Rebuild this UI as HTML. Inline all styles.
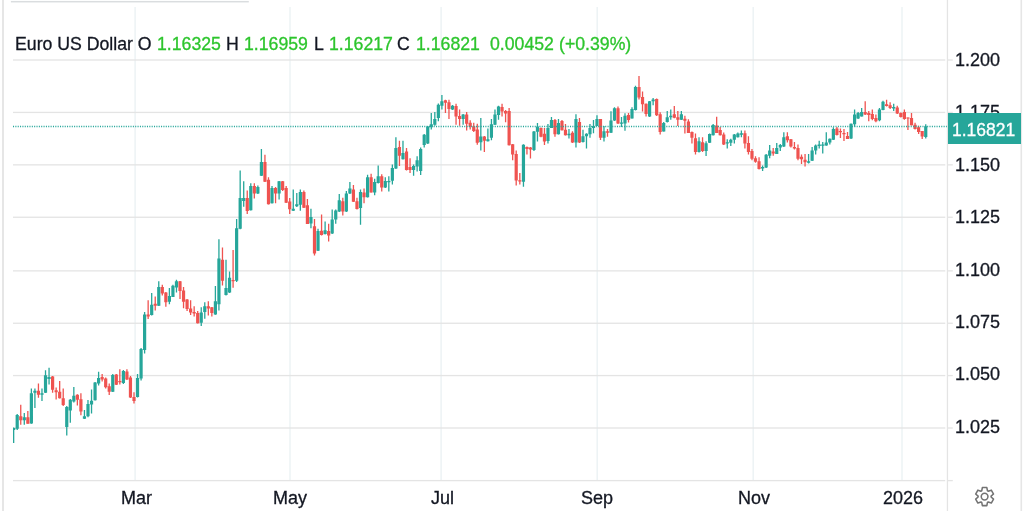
<!DOCTYPE html>
<html><head><meta charset="utf-8">
<style>
html,body{margin:0;padding:0;background:#fff;}
body{width:1023px;height:511px;overflow:hidden;position:relative;font-family:"Liberation Sans", sans-serif;-webkit-font-smoothing:antialiased;}
.lg,.pl,.tl,.lab{will-change:transform;-webkit-text-stroke:0.3px currentColor;}
svg{position:absolute;left:0;top:0;}
.lg{position:absolute;top:33px;font-size:17.7px;line-height:22px;white-space:pre;}
.dk{color:#131722;}
.gr{color:#2dc52d;}
.pl{position:absolute;left:955px;font-size:18px;line-height:22px;color:#131722;white-space:pre;}
.tl{position:absolute;top:487px;font-size:18px;line-height:22px;color:#131722;white-space:pre;}
.box{position:absolute;left:948px;top:113.3px;width:72.8px;height:30.4px;background:#26a69a;}
.lab{position:absolute;left:951.5px;top:119px;font-size:17.5px;line-height:22px;color:#fff;white-space:pre;}
</style></head><body>
<svg width="1023" height="511" viewBox="0 0 1023 511">
<rect x="134.35" y="7" width="1.5" height="473" fill="#edf3f5"/>
<rect x="289.25" y="7" width="1.5" height="473" fill="#edf3f5"/>
<rect x="440.35" y="7" width="1.5" height="473" fill="#edf3f5"/>
<rect x="596.45" y="7" width="1.5" height="473" fill="#edf3f5"/>
<rect x="752.45" y="7" width="1.5" height="473" fill="#edf3f5"/>
<rect x="901.25" y="7" width="1.5" height="473" fill="#edf3f5"/>
<rect x="13" y="59.35" width="932.3" height="1.3" fill="#e4e4e4"/>
<rect x="947.5" y="59.35" width="5.3" height="1.3" fill="#e4e4e4"/>
<rect x="13" y="111.78" width="932.3" height="1.3" fill="#e4e4e4"/>
<rect x="947.5" y="111.78" width="5.3" height="1.3" fill="#e4e4e4"/>
<rect x="13" y="164.21" width="932.3" height="1.3" fill="#e4e4e4"/>
<rect x="947.5" y="164.21" width="5.3" height="1.3" fill="#e4e4e4"/>
<rect x="13" y="216.60" width="932.3" height="1.3" fill="#e4e4e4"/>
<rect x="947.5" y="216.60" width="5.3" height="1.3" fill="#e4e4e4"/>
<rect x="13" y="270.23" width="932.3" height="1.3" fill="#e4e4e4"/>
<rect x="947.5" y="270.23" width="5.3" height="1.3" fill="#e4e4e4"/>
<rect x="13" y="322.60" width="932.3" height="1.3" fill="#e4e4e4"/>
<rect x="947.5" y="322.60" width="5.3" height="1.3" fill="#e4e4e4"/>
<rect x="13" y="374.92" width="932.3" height="1.3" fill="#e4e4e4"/>
<rect x="947.5" y="374.92" width="5.3" height="1.3" fill="#e4e4e4"/>
<rect x="13" y="427.35" width="932.3" height="1.3" fill="#e4e4e4"/>
<rect x="947.5" y="427.35" width="5.3" height="1.3" fill="#e4e4e4"/>
<defs><clipPath id="pane"><rect x="13.1" y="0" width="933" height="480"/></clipPath></defs><g clip-path="url(#pane)">
<path fill="#26a69a" d="M13.01 427.50h1.3V443.00h-1.3ZM16.55 414.10h1.3V429.90h-1.3ZM23.64 413.10h1.3V424.70h-1.3ZM30.72 388.40h1.3V423.70h-1.3ZM34.26 388.40h1.3V408.00h-1.3ZM41.33 388.40h1.3V401.00h-1.3ZM44.87 370.30h1.3V393.00h-1.3ZM48.41 367.80h1.3V384.50h-1.3ZM66.11 406.00h1.3V435.60h-1.3ZM69.65 399.00h1.3V422.70h-1.3ZM73.18 387.00h1.3V402.60h-1.3ZM83.80 410.00h1.3V419.00h-1.3ZM87.34 400.00h1.3V417.30h-1.3ZM90.88 389.40h1.3V413.40h-1.3ZM94.42 382.00h1.3V400.50h-1.3ZM97.96 371.70h1.3V385.40h-1.3ZM112.11 374.00h1.3V392.00h-1.3ZM122.73 370.00h1.3V384.00h-1.3ZM136.89 374.00h1.3V397.60h-1.3ZM140.42 348.00h1.3V380.40h-1.3ZM143.96 312.00h1.3V353.50h-1.3ZM151.04 293.00h1.3V315.50h-1.3ZM158.12 281.30h1.3V306.00h-1.3ZM168.74 288.00h1.3V304.20h-1.3ZM172.28 284.70h1.3V297.00h-1.3ZM175.81 279.80h1.3V292.50h-1.3ZM200.59 307.20h1.3V326.00h-1.3ZM204.13 302.30h1.3V318.80h-1.3ZM214.74 286.00h1.3V314.80h-1.3ZM218.28 239.30h1.3V310.60h-1.3ZM225.36 259.80h1.3V295.50h-1.3ZM228.90 271.40h1.3V293.00h-1.3ZM235.98 219.00h1.3V281.90h-1.3ZM239.52 170.40h1.3V229.20h-1.3ZM243.06 181.20h1.3V206.70h-1.3ZM250.13 183.20h1.3V210.50h-1.3ZM257.21 185.60h1.3V194.00h-1.3ZM260.75 148.90h1.3V176.00h-1.3ZM271.37 186.10h1.3V203.50h-1.3ZM278.45 181.00h1.3V199.40h-1.3ZM292.61 189.50h1.3V211.00h-1.3ZM296.14 193.00h1.3V207.00h-1.3ZM299.68 189.50h1.3V210.70h-1.3ZM310.30 208.70h1.3V228.20h-1.3ZM317.38 228.70h1.3V251.00h-1.3ZM324.46 221.40h1.3V234.50h-1.3ZM331.54 209.50h1.3V234.00h-1.3ZM335.08 209.50h1.3V223.80h-1.3ZM338.62 193.90h1.3V212.00h-1.3ZM345.70 191.00h1.3V212.00h-1.3ZM349.24 182.10h1.3V194.00h-1.3ZM359.86 189.50h1.3V224.80h-1.3ZM366.93 174.80h1.3V197.50h-1.3ZM374.01 178.70h1.3V195.30h-1.3ZM377.55 165.60h1.3V183.60h-1.3ZM384.63 177.20h1.3V188.00h-1.3ZM388.17 176.30h1.3V191.40h-1.3ZM391.71 164.60h1.3V184.60h-1.3ZM395.25 137.20h1.3V169.00h-1.3ZM402.33 140.70h1.3V159.50h-1.3ZM412.94 164.60h1.3V175.80h-1.3ZM416.48 156.30h1.3V171.40h-1.3ZM420.02 147.50h1.3V175.00h-1.3ZM423.56 134.00h1.3V147.50h-1.3ZM427.09 126.00h1.3V144.00h-1.3ZM430.63 113.00h1.3V129.60h-1.3ZM434.17 112.00h1.3V125.70h-1.3ZM437.71 103.50h1.3V121.30h-1.3ZM441.25 94.90h1.3V109.60h-1.3ZM451.86 105.00h1.3V110.00h-1.3ZM462.48 114.00h1.3V124.70h-1.3ZM480.17 117.90h1.3V150.50h-1.3ZM487.24 128.60h1.3V141.50h-1.3ZM490.78 118.90h1.3V140.30h-1.3ZM494.32 109.60h1.3V125.00h-1.3ZM497.86 105.70h1.3V119.80h-1.3ZM522.80 144.20h1.3V186.70h-1.3ZM533.30 131.00h1.3V151.00h-1.3ZM536.81 123.00h1.3V141.60h-1.3ZM547.31 124.00h1.3V143.50h-1.3ZM550.81 117.10h1.3V128.00h-1.3ZM557.82 119.10h1.3V134.50h-1.3ZM568.32 128.90h1.3V138.60h-1.3ZM575.32 114.20h1.3V147.50h-1.3ZM582.33 129.80h1.3V142.50h-1.3ZM585.83 133.30h1.3V148.40h-1.3ZM589.33 124.00h1.3V137.70h-1.3ZM592.83 120.00h1.3V133.30h-1.3ZM596.33 115.20h1.3V126.00h-1.3ZM603.33 125.90h1.3V141.60h-1.3ZM610.34 111.30h1.3V133.00h-1.3ZM613.84 107.30h1.3V121.00h-1.3ZM620.84 117.10h1.3V126.90h-1.3ZM624.34 113.20h1.3V130.80h-1.3ZM631.35 107.20h1.3V118.60h-1.3ZM634.85 85.70h1.3V110.50h-1.3ZM648.94 101.00h1.3V117.00h-1.3ZM652.47 97.90h1.3V105.20h-1.3ZM663.06 122.10h1.3V131.60h-1.3ZM666.59 110.90h1.3V122.50h-1.3ZM670.12 109.40h1.3V119.70h-1.3ZM680.71 110.90h1.3V120.00h-1.3ZM698.37 137.30h1.3V152.50h-1.3ZM705.43 141.20h1.3V156.00h-1.3ZM708.96 133.50h1.3V143.00h-1.3ZM712.49 124.10h1.3V135.50h-1.3ZM726.61 139.20h1.3V148.50h-1.3ZM730.14 138.80h1.3V146.10h-1.3ZM733.67 134.00h1.3V143.60h-1.3ZM737.20 132.40h1.3V137.50h-1.3ZM740.73 130.40h1.3V137.20h-1.3ZM761.95 165.60h1.3V171.00h-1.3ZM765.49 153.90h1.3V168.00h-1.3ZM769.03 145.00h1.3V158.30h-1.3ZM776.10 143.10h1.3V154.00h-1.3ZM779.64 144.10h1.3V150.90h-1.3ZM783.18 132.30h1.3V147.00h-1.3ZM807.94 153.90h1.3V163.60h-1.3ZM811.48 147.00h1.3V161.00h-1.3ZM815.02 144.60h1.3V154.40h-1.3ZM818.56 140.70h1.3V148.50h-1.3ZM822.09 142.10h1.3V153.40h-1.3ZM825.63 132.30h1.3V145.80h-1.3ZM829.17 138.50h1.3V144.60h-1.3ZM832.71 127.20h1.3V140.00h-1.3ZM850.40 123.50h1.3V139.00h-1.3ZM853.94 109.60h1.3V126.70h-1.3ZM857.47 112.00h1.3V119.00h-1.3ZM861.01 108.10h1.3V116.60h-1.3ZM878.80 108.10h1.3V121.30h-1.3ZM882.36 100.80h1.3V110.30h-1.3ZM893.04 103.70h1.3V111.00h-1.3ZM925.10 124.20h1.3V138.40h-1.3Z"/>
<path fill="#26a69a" d="M12.06 428.00h3.2v2.00h-3.2ZM15.60 415.00h3.2v13.80h-3.2ZM22.69 417.20h3.2v3.10h-3.2ZM29.77 393.30h3.2v30.10h-3.2ZM33.31 390.80h3.2v2.00h-3.2ZM40.38 393.30h3.2v1.40h-3.2ZM43.92 375.20h3.2v17.60h-3.2ZM47.46 377.00h3.2v2.00h-3.2ZM65.16 407.00h3.2v20.00h-3.2ZM68.70 399.70h3.2v10.70h-3.2ZM72.23 395.80h3.2v5.80h-3.2ZM82.85 416.30h3.2v2.50h-3.2ZM86.39 404.00h3.2v12.30h-3.2ZM89.93 400.70h3.2v3.90h-3.2ZM93.47 382.50h3.2v17.70h-3.2ZM97.01 378.00h3.2v5.40h-3.2ZM111.16 375.00h3.2v16.70h-3.2ZM121.78 371.00h3.2v12.00h-3.2ZM135.94 378.00h3.2v19.00h-3.2ZM139.47 349.00h3.2v29.50h-3.2ZM143.01 314.40h3.2v35.70h-3.2ZM150.09 304.70h3.2v10.30h-3.2ZM157.17 287.00h3.2v18.70h-3.2ZM167.79 296.00h3.2v5.80h-3.2ZM171.33 285.70h3.2v11.20h-3.2ZM174.86 281.30h3.2v6.30h-3.2ZM199.64 312.40h3.2v10.30h-3.2ZM203.18 306.20h3.2v5.80h-3.2ZM213.79 301.30h3.2v13.20h-3.2ZM217.33 258.40h3.2v45.80h-3.2ZM224.41 288.00h3.2v7.00h-3.2ZM227.95 277.80h3.2v14.70h-3.2ZM235.03 228.30h3.2v52.40h-3.2ZM238.57 198.00h3.2v30.80h-3.2ZM242.11 198.00h3.2v2.90h-3.2ZM249.18 186.10h3.2v24.10h-3.2ZM256.26 187.00h3.2v6.40h-3.2ZM259.80 162.10h3.2v13.70h-3.2ZM270.42 188.00h3.2v15.30h-3.2ZM277.50 181.20h3.2v12.20h-3.2ZM291.66 208.70h3.2v2.00h-3.2ZM295.19 204.30h3.2v2.00h-3.2ZM298.73 192.00h3.2v12.80h-3.2ZM309.35 217.00h3.2v6.60h-3.2ZM316.43 231.10h3.2v19.60h-3.2ZM323.51 230.20h3.2v3.90h-3.2ZM330.59 219.40h3.2v14.20h-3.2ZM334.13 210.50h3.2v8.90h-3.2ZM337.67 200.20h3.2v11.30h-3.2ZM344.75 193.40h3.2v18.10h-3.2ZM348.29 188.50h3.2v4.90h-3.2ZM358.91 191.90h3.2v16.10h-3.2ZM365.98 177.20h3.2v20.10h-3.2ZM373.06 182.10h3.2v10.30h-3.2ZM376.60 176.30h3.2v6.80h-3.2ZM383.68 181.10h3.2v6.40h-3.2ZM387.22 181.00h3.2v1.20h-3.2ZM390.76 168.00h3.2v12.70h-3.2ZM394.30 148.00h3.2v20.50h-3.2ZM401.38 152.90h3.2v6.30h-3.2ZM411.99 166.10h3.2v3.90h-3.2ZM415.53 160.20h3.2v6.40h-3.2ZM419.07 149.00h3.2v22.00h-3.2ZM422.61 134.80h3.2v10.20h-3.2ZM426.14 126.50h3.2v17.10h-3.2ZM429.68 124.20h3.2v3.00h-3.2ZM433.22 118.90h3.2v5.80h-3.2ZM436.76 104.70h3.2v13.20h-3.2ZM440.30 101.30h3.2v4.40h-3.2ZM450.91 105.70h3.2v3.90h-3.2ZM461.53 114.50h3.2v4.40h-3.2ZM479.22 136.40h3.2v5.80h-3.2ZM486.29 139.30h3.2v2.00h-3.2ZM489.83 124.20h3.2v13.60h-3.2ZM493.37 114.50h3.2v10.20h-3.2ZM496.91 106.60h3.2v8.40h-3.2ZM521.85 144.70h3.2v37.00h-3.2ZM532.35 131.50h3.2v18.50h-3.2ZM535.86 126.40h3.2v5.40h-3.2ZM546.36 127.90h3.2v13.20h-3.2ZM549.86 120.00h3.2v7.90h-3.2ZM556.87 123.00h3.2v11.20h-3.2ZM567.37 133.80h3.2v1.40h-3.2ZM574.37 119.10h3.2v23.50h-3.2ZM581.38 136.20h3.2v5.90h-3.2ZM584.88 133.80h3.2v2.40h-3.2ZM588.38 127.90h3.2v6.30h-3.2ZM591.88 125.90h3.2v2.00h-3.2ZM595.38 119.10h3.2v6.80h-3.2ZM602.38 131.30h3.2v6.40h-3.2ZM609.39 120.50h3.2v12.30h-3.2ZM612.89 108.30h3.2v12.20h-3.2ZM619.89 122.50h3.2v1.20h-3.2ZM623.39 115.70h3.2v7.80h-3.2ZM630.40 109.10h3.2v9.30h-3.2ZM633.90 87.10h3.2v23.00h-3.2ZM647.99 101.30h3.2v15.20h-3.2ZM651.52 99.40h3.2v1.90h-3.2ZM662.11 123.10h3.2v8.30h-3.2ZM665.64 117.20h3.2v4.90h-3.2ZM669.17 115.80h3.2v1.40h-3.2ZM679.76 114.30h3.2v5.40h-3.2ZM697.42 141.20h3.2v10.80h-3.2ZM704.48 143.20h3.2v7.80h-3.2ZM708.01 133.90h3.2v8.80h-3.2ZM711.54 125.10h3.2v10.20h-3.2ZM725.66 142.20h3.2v1.40h-3.2ZM729.19 139.70h3.2v3.00h-3.2ZM732.72 134.40h3.2v5.30h-3.2ZM736.25 133.40h3.2v3.90h-3.2ZM739.78 133.30h3.2v1.50h-3.2ZM761.00 167.10h3.2v1.40h-3.2ZM764.54 154.80h3.2v12.80h-3.2ZM768.08 150.40h3.2v5.40h-3.2ZM775.15 148.00h3.2v5.90h-3.2ZM778.69 145.00h3.2v2.50h-3.2ZM782.23 137.20h3.2v9.30h-3.2ZM806.99 161.20h3.2v1.50h-3.2ZM810.53 150.40h3.2v10.30h-3.2ZM814.07 145.50h3.2v4.90h-3.2ZM817.61 144.60h3.2v1.40h-3.2ZM821.14 144.60h3.2v1.20h-3.2ZM824.68 142.60h3.2v2.90h-3.2ZM828.22 138.70h3.2v3.90h-3.2ZM831.76 128.90h3.2v10.80h-3.2ZM849.45 123.80h3.2v14.60h-3.2ZM852.99 114.50h3.2v9.70h-3.2ZM856.52 113.00h3.2v5.40h-3.2ZM860.06 112.00h3.2v4.40h-3.2ZM877.85 109.60h3.2v10.70h-3.2ZM881.41 101.70h3.2v8.40h-3.2ZM892.09 107.10h3.2v1.50h-3.2ZM924.15 126.20h3.2v10.80h-3.2Z"/>
<path fill="#ef5350" d="M20.10 404.80h1.3V424.70h-1.3ZM27.18 411.00h1.3V423.70h-1.3ZM37.79 383.50h1.3V397.70h-1.3ZM51.95 376.00h1.3V392.80h-1.3ZM55.49 387.40h1.3V399.60h-1.3ZM59.03 381.00h1.3V398.40h-1.3ZM62.57 388.40h1.3V406.00h-1.3ZM76.72 394.20h1.3V405.50h-1.3ZM80.26 393.30h1.3V415.30h-1.3ZM101.50 374.00h1.3V381.40h-1.3ZM105.04 377.60h1.3V388.40h-1.3ZM108.57 383.40h1.3V395.10h-1.3ZM115.65 374.00h1.3V385.00h-1.3ZM119.19 369.20h1.3V384.40h-1.3ZM126.27 369.20h1.3V380.00h-1.3ZM129.81 376.00h1.3V398.00h-1.3ZM133.35 392.20h1.3V403.40h-1.3ZM147.50 300.30h1.3V319.00h-1.3ZM154.58 296.40h1.3V310.60h-1.3ZM161.66 284.70h1.3V295.40h-1.3ZM165.20 292.00h1.3V306.70h-1.3ZM179.35 281.00h1.3V298.90h-1.3ZM182.89 287.00h1.3V308.20h-1.3ZM186.43 299.00h1.3V311.00h-1.3ZM189.97 300.30h1.3V315.00h-1.3ZM193.51 306.20h1.3V316.50h-1.3ZM197.05 311.00h1.3V323.50h-1.3ZM207.67 301.30h1.3V315.50h-1.3ZM211.20 307.00h1.3V316.50h-1.3ZM221.82 247.60h1.3V285.50h-1.3ZM232.44 250.00h1.3V287.70h-1.3ZM246.59 190.50h1.3V214.00h-1.3ZM253.67 183.20h1.3V198.40h-1.3ZM264.29 154.80h1.3V182.00h-1.3ZM267.83 177.30h1.3V204.50h-1.3ZM274.91 187.00h1.3V203.30h-1.3ZM281.99 181.00h1.3V191.00h-1.3ZM285.53 186.10h1.3V203.00h-1.3ZM289.07 198.00h1.3V214.00h-1.3ZM303.22 190.50h1.3V208.00h-1.3ZM306.76 198.90h1.3V224.00h-1.3ZM313.84 219.00h1.3V255.60h-1.3ZM320.92 214.40h1.3V235.50h-1.3ZM328.00 223.80h1.3V241.40h-1.3ZM342.16 197.80h1.3V215.50h-1.3ZM352.78 185.00h1.3V202.00h-1.3ZM356.32 197.80h1.3V209.50h-1.3ZM363.39 188.50h1.3V203.20h-1.3ZM370.47 173.80h1.3V192.50h-1.3ZM381.09 174.30h1.3V191.40h-1.3ZM398.79 140.70h1.3V166.10h-1.3ZM405.86 148.00h1.3V170.50h-1.3ZM409.40 158.30h1.3V173.00h-1.3ZM444.79 99.80h1.3V113.00h-1.3ZM448.32 99.80h1.3V118.90h-1.3ZM455.40 103.70h1.3V124.70h-1.3ZM458.94 109.60h1.3V125.70h-1.3ZM466.01 112.00h1.3V130.60h-1.3ZM469.55 120.30h1.3V129.60h-1.3ZM473.09 122.80h1.3V132.00h-1.3ZM476.63 123.80h1.3V144.70h-1.3ZM483.71 136.00h1.3V152.00h-1.3ZM501.40 103.70h1.3V116.40h-1.3ZM504.94 110.00h1.3V122.30h-1.3ZM508.47 108.10h1.3V145.50h-1.3ZM512.01 144.00h1.3V160.30h-1.3ZM515.55 150.50h1.3V185.50h-1.3ZM519.18 172.90h1.3V184.40h-1.3ZM526.30 146.50h1.3V154.50h-1.3ZM529.80 147.00h1.3V158.40h-1.3ZM540.31 127.50h1.3V137.20h-1.3ZM543.81 127.90h1.3V145.00h-1.3ZM554.31 119.10h1.3V136.70h-1.3ZM561.32 120.00h1.3V130.50h-1.3ZM564.82 124.00h1.3V135.40h-1.3ZM571.82 131.30h1.3V143.00h-1.3ZM578.82 118.10h1.3V143.00h-1.3ZM599.83 119.00h1.3V140.10h-1.3ZM606.84 128.90h1.3V136.70h-1.3ZM617.34 106.40h1.3V124.00h-1.3ZM627.85 113.00h1.3V122.50h-1.3ZM638.35 75.90h1.3V99.40h-1.3ZM641.88 91.50h1.3V111.60h-1.3ZM645.41 103.50h1.3V116.50h-1.3ZM656.00 98.50h1.3V116.00h-1.3ZM659.53 112.30h1.3V134.40h-1.3ZM673.65 106.00h1.3V118.20h-1.3ZM677.18 110.90h1.3V126.00h-1.3ZM684.24 115.80h1.3V133.40h-1.3ZM687.77 119.20h1.3V133.00h-1.3ZM691.30 131.50h1.3V143.60h-1.3ZM694.83 133.40h1.3V154.40h-1.3ZM701.90 137.30h1.3V152.00h-1.3ZM716.02 116.70h1.3V133.00h-1.3ZM719.55 127.00h1.3V135.50h-1.3ZM723.08 132.40h1.3V145.00h-1.3ZM744.26 130.40h1.3V148.50h-1.3ZM747.79 136.30h1.3V154.40h-1.3ZM751.32 149.00h1.3V160.20h-1.3ZM754.85 156.30h1.3V162.70h-1.3ZM758.40 157.30h1.3V169.50h-1.3ZM772.56 148.00h1.3V155.80h-1.3ZM786.72 132.30h1.3V142.60h-1.3ZM790.25 139.00h1.3V147.50h-1.3ZM793.79 142.10h1.3V149.50h-1.3ZM797.33 144.60h1.3V160.20h-1.3ZM800.87 154.40h1.3V164.10h-1.3ZM804.41 153.90h1.3V166.60h-1.3ZM836.25 127.00h1.3V135.50h-1.3ZM839.78 128.60h1.3V138.00h-1.3ZM843.32 129.10h1.3V141.00h-1.3ZM846.86 132.10h1.3V139.00h-1.3ZM864.55 101.30h1.3V115.00h-1.3ZM868.11 111.00h1.3V121.30h-1.3ZM871.67 109.60h1.3V120.30h-1.3ZM875.24 114.50h1.3V122.30h-1.3ZM885.92 99.80h1.3V106.50h-1.3ZM889.48 102.20h1.3V109.10h-1.3ZM896.61 105.70h1.3V114.00h-1.3ZM900.17 112.50h1.3V117.50h-1.3ZM903.73 109.60h1.3V119.80h-1.3ZM907.29 117.40h1.3V130.10h-1.3ZM910.85 113.00h1.3V125.50h-1.3ZM914.41 122.80h1.3V129.50h-1.3ZM917.98 125.70h1.3V134.00h-1.3ZM921.54 131.00h1.3V138.90h-1.3Z"/>
<path fill="#ef5350" d="M19.15 416.20h3.2v4.10h-3.2ZM26.23 417.20h3.2v6.50h-3.2ZM36.84 390.80h3.2v3.90h-3.2ZM51.00 376.60h3.2v13.20h-3.2ZM54.54 390.30h3.2v2.00h-3.2ZM58.08 391.80h3.2v6.40h-3.2ZM61.62 398.20h3.2v6.80h-3.2ZM75.77 394.80h3.2v4.90h-3.2ZM79.31 399.20h3.2v12.20h-3.2ZM100.55 377.00h3.2v2.50h-3.2ZM104.09 378.50h3.2v8.80h-3.2ZM107.62 386.30h3.2v5.40h-3.2ZM114.70 374.60h3.2v10.20h-3.2ZM118.24 381.00h3.2v1.20h-3.2ZM125.32 371.60h3.2v7.90h-3.2ZM128.86 377.50h3.2v20.10h-3.2ZM132.40 397.00h3.2v4.00h-3.2ZM146.55 314.50h3.2v2.00h-3.2ZM153.63 303.80h3.2v1.90h-3.2ZM160.71 287.00h3.2v6.50h-3.2ZM164.25 292.50h3.2v9.80h-3.2ZM178.40 281.30h3.2v9.70h-3.2ZM181.94 290.50h3.2v11.30h-3.2ZM185.48 299.40h3.2v9.70h-3.2ZM189.02 308.60h3.2v4.00h-3.2ZM192.56 312.00h3.2v1.50h-3.2ZM196.10 313.00h3.2v10.20h-3.2ZM206.72 306.20h3.2v2.40h-3.2ZM210.25 307.20h3.2v5.80h-3.2ZM220.87 259.80h3.2v20.90h-3.2ZM231.49 280.00h3.2v1.20h-3.2ZM245.64 198.00h3.2v13.10h-3.2ZM252.72 186.10h3.2v7.30h-3.2ZM263.34 162.10h3.2v19.60h-3.2ZM266.88 179.70h3.2v24.60h-3.2ZM273.96 188.00h3.2v5.40h-3.2ZM281.04 181.20h3.2v8.80h-3.2ZM284.58 188.00h3.2v14.80h-3.2ZM288.12 201.40h3.2v7.80h-3.2ZM302.27 192.00h3.2v15.70h-3.2ZM305.81 205.30h3.2v18.60h-3.2ZM312.89 226.30h3.2v27.30h-3.2ZM319.97 230.70h3.2v4.30h-3.2ZM327.05 231.10h3.2v4.40h-3.2ZM341.21 201.20h3.2v10.30h-3.2ZM351.83 189.50h3.2v12.20h-3.2ZM355.37 201.20h3.2v7.80h-3.2ZM362.44 192.40h3.2v4.90h-3.2ZM369.52 177.20h3.2v15.20h-3.2ZM380.14 176.30h3.2v11.20h-3.2ZM397.84 147.00h3.2v8.80h-3.2ZM404.91 151.40h3.2v18.60h-3.2ZM408.45 167.00h3.2v3.00h-3.2ZM443.84 100.30h3.2v2.40h-3.2ZM447.37 102.20h3.2v6.90h-3.2ZM454.45 106.10h3.2v10.30h-3.2ZM457.99 115.90h3.2v3.00h-3.2ZM465.06 114.50h3.2v9.30h-3.2ZM468.60 122.80h3.2v3.90h-3.2ZM472.14 126.20h3.2v4.90h-3.2ZM475.68 129.60h3.2v13.10h-3.2ZM482.76 136.40h3.2v4.40h-3.2ZM500.45 107.10h3.2v4.40h-3.2ZM503.99 111.00h3.2v2.50h-3.2ZM507.52 111.00h3.2v34.20h-3.2ZM511.06 144.20h3.2v10.30h-3.2ZM514.60 154.00h3.2v26.50h-3.2ZM518.23 180.20h3.2v1.20h-3.2ZM525.35 147.10h3.2v2.00h-3.2ZM528.85 147.60h3.2v2.00h-3.2ZM539.36 127.90h3.2v8.80h-3.2ZM542.86 133.80h3.2v7.80h-3.2ZM553.36 120.00h3.2v14.20h-3.2ZM560.37 121.00h3.2v9.30h-3.2ZM563.87 129.80h3.2v5.40h-3.2ZM570.87 132.80h3.2v9.80h-3.2ZM577.87 122.00h3.2v20.60h-3.2ZM598.88 119.10h3.2v18.60h-3.2ZM605.89 131.30h3.2v1.50h-3.2ZM616.39 108.30h3.2v15.20h-3.2ZM626.90 115.00h3.2v5.00h-3.2ZM637.40 87.10h3.2v10.30h-3.2ZM640.93 96.90h3.2v7.30h-3.2ZM644.46 103.80h3.2v10.20h-3.2ZM655.05 98.90h3.2v16.40h-3.2ZM658.58 114.30h3.2v17.60h-3.2ZM672.70 114.30h3.2v3.40h-3.2ZM676.23 117.20h3.2v2.50h-3.2ZM683.29 118.70h3.2v2.00h-3.2ZM686.82 121.60h3.2v11.30h-3.2ZM690.35 131.90h3.2v5.90h-3.2ZM693.88 138.30h3.2v13.70h-3.2ZM700.95 142.20h3.2v8.80h-3.2ZM715.07 125.50h3.2v7.40h-3.2ZM718.60 130.00h3.2v5.30h-3.2ZM722.13 134.40h3.2v10.20h-3.2ZM743.31 133.30h3.2v10.30h-3.2ZM746.84 143.10h3.2v8.80h-3.2ZM750.37 150.90h3.2v7.90h-3.2ZM753.90 158.30h3.2v3.40h-3.2ZM757.45 161.20h3.2v7.80h-3.2ZM771.61 151.40h3.2v2.00h-3.2ZM785.77 136.30h3.2v3.90h-3.2ZM789.30 139.20h3.2v7.30h-3.2ZM792.84 147.00h3.2v1.50h-3.2ZM796.38 148.00h3.2v10.80h-3.2ZM799.92 156.80h3.2v2.40h-3.2ZM803.46 159.70h3.2v2.50h-3.2ZM835.30 128.50h3.2v6.60h-3.2ZM838.83 131.00h3.2v1.20h-3.2ZM842.37 133.00h3.2v1.20h-3.2ZM845.91 136.00h3.2v2.90h-3.2ZM863.60 112.00h3.2v2.50h-3.2ZM867.16 113.00h3.2v2.00h-3.2ZM870.72 114.00h3.2v4.90h-3.2ZM874.29 117.90h3.2v3.40h-3.2ZM884.97 104.20h3.2v1.90h-3.2ZM888.53 105.20h3.2v2.90h-3.2ZM895.66 107.60h3.2v5.90h-3.2ZM899.22 113.00h3.2v3.90h-3.2ZM902.78 112.00h3.2v6.90h-3.2ZM906.34 117.40h3.2v1.20h-3.2ZM909.90 117.90h3.2v7.30h-3.2ZM913.46 124.70h3.2v4.40h-3.2ZM917.03 127.20h3.2v4.90h-3.2ZM920.59 131.10h3.2v5.40h-3.2Z"/>
</g>
<line x1="13" y1="126.5" x2="948" y2="126.5" stroke="#26a69a" stroke-width="1.3" stroke-dasharray="1.05 1.3"/>
<rect x="2" y="0" width="2" height="511" fill="#e6e6e6"/>
<rect x="10.9" y="0.95" width="237.9" height="1.5" fill="#dadddf"/>
<rect x="946.8" y="0" width="1.3" height="511" fill="#e4e4e4"/>
<rect x="1020.5" y="0" width="1.6" height="511" fill="#e6e6e6"/>
<rect x="13" y="479.95" width="932.2" height="1.3" fill="#e4e4e4"/>
<rect x="947.5" y="479.95" width="5.3" height="1.3" fill="#e4e4e4"/>
<g transform="translate(984.6 496.6)" fill="none" stroke="#737373" stroke-width="1.55" stroke-linejoin="round"><path d="M-2.87 -5.83L-2.23 -9.03L2.23 -9.03L2.87 -5.83A6.5 6.5 0 0 1 3.61 -5.40L6.70 -6.45L8.93 -2.58L6.49 -0.43A6.5 6.5 0 0 1 6.49 0.43L8.93 2.58L6.70 6.45L3.61 5.40A6.5 6.5 0 0 1 2.87 5.83L2.23 9.03L-2.23 9.03L-2.87 5.83A6.5 6.5 0 0 1 -3.61 5.40L-6.70 6.45L-8.93 2.58L-6.49 0.43A6.5 6.5 0 0 1 -6.49 -0.43L-8.93 -2.58L-6.70 -6.45L-3.61 -5.40A6.5 6.5 0 0 1 -2.87 -5.83Z"/><circle cx="0" cy="0" r="3.35"/></g>
</svg>
<div class="lg dk" style="left:14.8px">Euro US Dollar O</div>
<div class="lg gr" style="left:157.0px">1.16325</div>
<div class="lg dk" style="left:226.0px">H</div>
<div class="lg gr" style="left:244.0px">1.16959</div>
<div class="lg dk" style="left:313.6px">L</div>
<div class="lg gr" style="left:328.6px">1.16217</div>
<div class="lg dk" style="left:397.2px">C</div>
<div class="lg gr" style="left:415.6px">1.16821</div>
<div class="lg gr" style="left:489.6px">0.00452</div>
<div class="lg gr" style="left:558.8px">(+0.39%)</div>

<div class="pl" style="top:49.00px">1.200</div>
<div class="pl" style="top:101.40px">1.175</div>
<div class="pl" style="top:153.75px">1.150</div>
<div class="pl" style="top:206.20px">1.125</div>
<div class="pl" style="top:258.75px">1.100</div>
<div class="pl" style="top:311.16px">1.075</div>
<div class="pl" style="top:363.45px">1.050</div>
<div class="pl" style="top:415.80px">1.025</div>

<div class="tl" style="left:120.7px">Mar</div>
<div class="tl" style="left:272.9px">May</div>
<div class="tl" style="left:430.9px">Jul</div>
<div class="tl" style="left:580.9px">Sep</div>
<div class="tl" style="left:737.9px">Nov</div>
<div class="tl" style="left:882.7px">2026</div>

<div class="box"></div>
<div class="lab">1.16821</div>
</body></html>
